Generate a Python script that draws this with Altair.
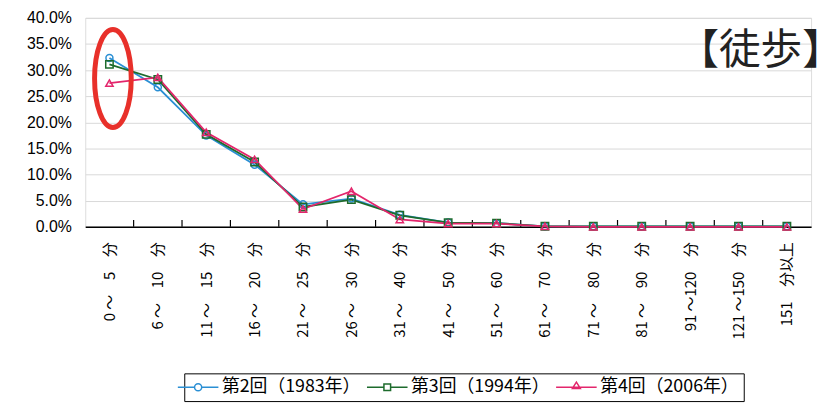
import altair as alt
import pandas as pd

categories = ["0 ～　5　分", "6 ～　10　分", "11 ～　15　分", "16 ～　20　分",
              "21 ～　25　分", "26 ～　30　分", "31 ～　40　分", "41 ～　50　分",
              "51 ～　60　分", "61 ～　70　分", "71 ～　80　分", "81 ～　90　分",
              "91 ～120　分", "121 ～150　分", "151　分以上"]
series_names = ["第2回（1983年）", "第3回（1994年）", "第4回（2006年）"]
s1983 = [32.3, 26.7, 17.5, 11.9, 4.3, 5.4, 2.3, 0.8, 0.7, 0.1, 0.1, 0.1, 0.1, 0.1, 0.1]
s1994 = [31.1, 28.2, 17.7, 12.4, 3.8, 5.2, 2.2, 0.8, 0.7, 0.1, 0.1, 0.1, 0.1, 0.1, 0.1]
s2006 = [27.5, 28.6, 18.1, 12.9, 3.4, 6.8, 1.4, 0.6, 0.6, 0.1, 0.0, 0.0, 0.0, 0.0, 0.0]
colors = ["#2a8fd4", "#1d6b2c", "#e3266c"]
marker_shapes = ["circle", "square", "triangle-up"]
marker_sizes = [50, 56, 55]
highlight_value = [28.4]  # centre of the red ring, in %
y_ticks = [0, 0.05, 0.1, 0.15, 0.2, 0.25, 0.3, 0.35, 0.4]

# legend glyphs: a short line with the series marker in its middle (unit = 8 px)
legend_paths = [
    "M -2.56 0 L -0.45 0 M 0.45 0 L 2.56 0 M 0.45 0 C 0.45 0.25 0.25 0.45 0 0.45 C -0.25 0.45 -0.45 0.25 -0.45 0 C -0.45 -0.25 -0.25 -0.45 0 -0.45 C 0.25 -0.45 0.45 -0.25 0.45 0 Z",
    "M -2.56 0 L -0.42 0 M 0.42 0 L 2.56 0 M -0.42 -0.42 L 0.42 -0.42 L 0.42 0.42 L -0.42 0.42 Z",
    "M -2.56 0 L 2.56 0 M -0.5 0.15 L 0 -0.65 L 0.5 0.15 Z",
]
ellipse_path = ("M 0.374 0 C 0.374 0.5523 0.2066 1 0 1 C -0.2066 1 -0.374 0.5523 -0.374 0 "
                "C -0.374 -0.5523 -0.2066 -1 0 -1 C 0.2066 -1 0.374 -0.5523 0.374 0 Z")

rows = []
for name, vals in zip(series_names, [s1983, s1994, s2006]):
    for c, v in zip(categories, vals):
        rows.append({"cat": c, "val": v / 100.0, "series": name})
df = pd.DataFrame(rows)
ticks_df = pd.DataFrame({"cat": categories[:-1], "val": [0.0] * 14, "top": [0.013] * 14})
ell_df = pd.DataFrame({"cat": [categories[0]], "val": [highlight_value[0] / 100.0]})

W, H = 733, 211
step = W / len(categories)

x_enc = alt.X("cat:N", sort=categories,
              scale=alt.Scale(type="point", padding=0.5, domain=categories),
              axis=alt.Axis(title=None, labelAngle=-90, labelFont="Noto Sans CJK JP",
                            labelFontSize=15, labelColor="black", labelPadding=15,
                            ticks=False, domain=True, domainColor="black",
                            domainWidth=1.5, grid=False, labelLimit=200))
y_enc = alt.Y("val:Q", scale=alt.Scale(domain=[0, 0.4], nice=False),
              axis=alt.Axis(title=None, format=".1%", values=y_ticks,
                            labelFont="Liberation Sans", labelFontSize=16,
                            labelColor="black", labelPadding=14, ticks=False,
                            labelOverlap=False, labelBound=False,
                            domain=False, grid=True, gridColor="#d9d9d9", gridWidth=1))

LEG = alt.Legend(title=None, orient="none", legendX=100, legendY=359,
                 direction="horizontal", strokeColor="black", fillColor="white",
                 padding=5, labelFont="Noto Sans CJK JP", labelFontSize=18,
                 labelColor="black", symbolSize=256, symbolStrokeWidth=1.5,
                 columnPadding=3, labelOffset=15)

stroke_enc = alt.Stroke("series:N", sort=series_names,
                        scale=alt.Scale(domain=series_names, range=colors), legend=LEG)

lines = alt.Chart(df).mark_line(strokeWidth=1.8).encode(x=x_enc, y=y_enc, stroke=stroke_enc)

point_layers = []
for name, shp, sz in zip(series_names, marker_shapes, marker_sizes):
    point_layers.append(
        alt.Chart(df[df["series"] == name]).mark_point(
            shape=shp, filled=False, size=sz, strokeWidth=1.5, opacity=1
        ).encode(x=x_enc, y=y_enc, stroke=stroke_enc)
    )

legend_layer = alt.Chart(df).mark_point(size=0, filled=False, strokeWidth=1.5).encode(
    x=x_enc, y=y_enc, stroke=stroke_enc,
    shape=alt.Shape("series:N", sort=series_names,
                    scale=alt.Scale(domain=series_names, range=legend_paths), legend=LEG),
)

tick_layer = alt.Chart(ticks_df).mark_rule(color="black", strokeWidth=1.2, xOffset=step / 2).encode(
    x=x_enc, y=y_enc, y2="top:Q"
)

ellipse = alt.Chart(ell_df).mark_point(
    shape=ellipse_path, size=9801, filled=False, stroke="#e8302a", strokeWidth=5,
    xOffset=3.5, opacity=1
).encode(x=x_enc, y=y_enc)

chart = alt.layer(tick_layer, lines, *point_layers, legend_layer, ellipse).properties(
    width=W, height=H,
    autosize=alt.AutoSizeParams(type="none"),
    padding={"left": 78, "top": 8, "right": 8, "bottom": 177},
    title=alt.TitleParams("【徒歩】", anchor="end", orient="top", dy=68, dx=33,
                          font="Noto Sans CJK JP", fontSize=42, fontWeight="normal",
                          color="#222"),
).configure_view(stroke="#333", strokeWidth=1.5).configure(background="white")

chart.save("out.html", embed_options={"renderer": "svg", "actions": False})
